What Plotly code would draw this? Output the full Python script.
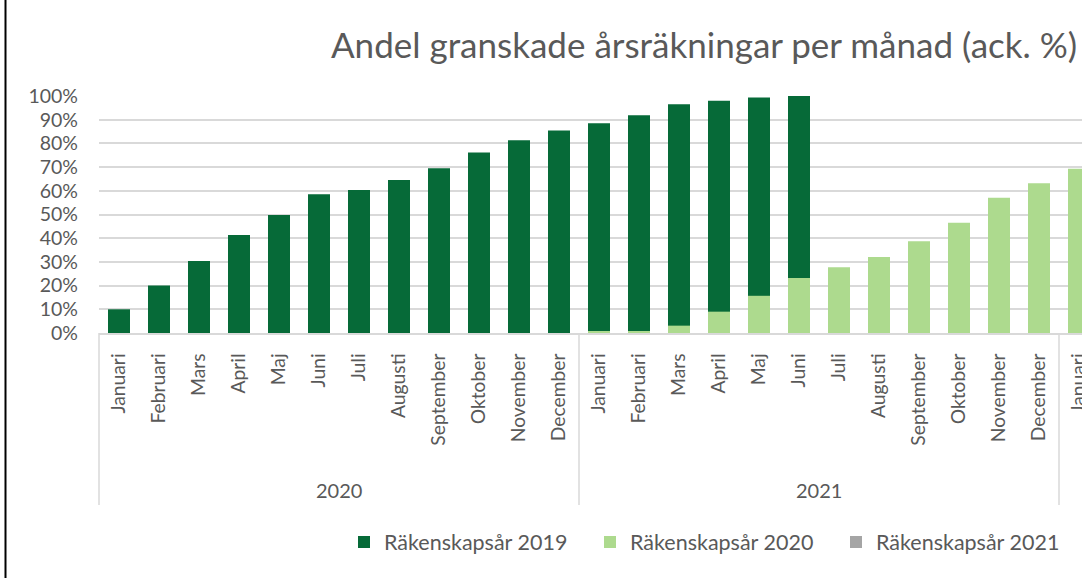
import plotly.graph_objects as go

# ---------------- data ----------------
months = ["Januari", "Februari", "Mars", "April", "Maj", "Juni", "Juli",
          "Augusti", "September", "Oktober", "November", "December"]
years = ["2020", "2021", "2022"]
year_months = [(y, m) for y in years for m in months][:25]   # reference is cut after Januari 2022
categories = [f"{m} {y}" for y, m in year_months]
tick_labels = [m for y, m in year_months]

# cumulative share reviewed (%)
rs2019 = [10, 20, 30.4, 41.3, 49.8, 58.5, 60.3, 64.6, 69.5, 76.2, 81.3, 85.4,
          88.5, 91.9, 96.5, 98.0, 99.4, 100, None, None, None, None, None, None,
          None]
rs2020 = [None, None, None, None, None, None, None, None, None, None, None, None,
          0.5, 0.7, 3.1, 9.0, 15.7, 23.2, 27.7, 32.1, 38.7, 46.5, 57.1, 63.2,
          69.3]
rs2021 = [None] * 25

series = [
    ("Räkenskapsår 2019", rs2019, "#066A38"),
    ("Räkenskapsår 2020", rs2020, "#ADDA8E"),
    ("Räkenskapsår 2021", rs2021, "#A5A5A5"),
]

FONT = "Lato"
TXT = "#595959"
GRID = "#D9D9D9"

W, H = 1082, 578
L, T, B = 99, 96, 245
plot_h = H - T - B
plot_w = W - L


def py(px):
    """pixel y (from top) -> paper y"""
    return (H - B - px) / plot_h


def pxx(px):
    return (px - L) / plot_w


fig = go.Figure()
for name, vals, col in series:
    fig.add_trace(go.Bar(
        x=categories,
        y=[v / 100 if v is not None else None for v in vals],
        name=name,
        marker=dict(color=col, line=dict(width=0)),
    ))

shapes = []
# group dividers under the category axis
shapes.append(dict(type="line", xref="x domain", yref="paper", x0=0, x1=0,
                   y0=0, y1=py(505), line=dict(color=GRID, width=1.5)))
for xb in [11.5, 23.5]:
    shapes.append(dict(type="line", xref="x", yref="paper", x0=xb, x1=xb,
                       y0=0, y1=py(505), line=dict(color=GRID, width=1.5)))
# chart frame line on the left
shapes.append(dict(type="line", xref="paper", yref="paper", x0=pxx(5.5), x1=pxx(5.5),
                   y0=py(H + 2), y1=py(-2), line=dict(color="black", width=2)))

annotations = []
for yr, xc in [("2020", 5.5), ("2021", 17.5)]:
    annotations.append(dict(text=yr, x=xc, xref="x", y=py(490), yref="paper",
                            showarrow=False, xanchor="center", yanchor="middle",
                            font=dict(family=FONT, size=20, color=TXT)))
annotations.append(dict(text="Andel granskade årsräkningar per månad (ack. %)",
                        x=pxx(1079), xref="paper", y=py(44), yref="paper",
                        showarrow=False, xanchor="right", yanchor="middle",
                        font=dict(family=FONT, size=35, color=TXT)))

fig.update_layout(
    width=W, height=H,
    margin=dict(l=L, r=0, t=T, b=B, pad=0, autoexpand=False),
    paper_bgcolor="white", plot_bgcolor="white",
    barmode="overlay", bargap=0.45,
    font=dict(family=FONT, size=19, color=TXT),
    shapes=shapes, annotations=annotations,
    legend=dict(orientation="h", x=pxx(344), xanchor="left", y=py(542), yanchor="middle",
                font=dict(family=FONT, size=21.5, color=TXT),
                entrywidth=201, entrywidthmode="pixels", traceorder="normal",
                bgcolor="rgba(0,0,0,0)"),
    xaxis=dict(type="category", categoryorder="array", categoryarray=categories,
               tickvals=categories, ticktext=tick_labels, tickangle=-90,
               range=[-0.5, -0.5 + plot_w / 40], automargin=False,
               showgrid=False, showline=True, linecolor=GRID, linewidth=1.5,
               ticks="", ticklabelstandoff=11,
               tickfont=dict(family=FONT, size=19.3, color=TXT), fixedrange=True),
    yaxis=dict(range=[0, 1], dtick=0.1, tickformat=".0%", showgrid=True,
               gridcolor=GRID, gridwidth=1.5, zeroline=False, showline=False,
               ticks="", ticklabelstandoff=20, automargin=False,
               tickfont=dict(family=FONT, size=19.5, color=TXT), fixedrange=True),
)

fig.write_html("out.html", config={"displayModeBar": False},
               post_script="document.body.style.margin='0';")
